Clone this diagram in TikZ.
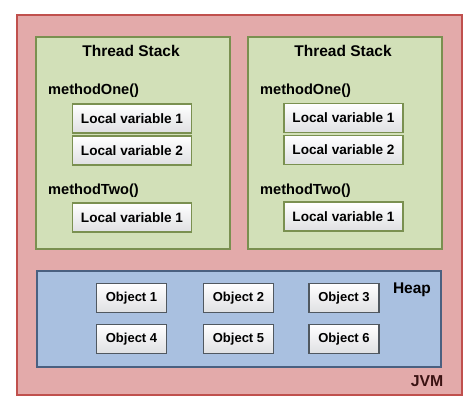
\documentclass[tikz,border=0pt]{standalone}
\usepackage{fontspec}
\setmainfont{Liberation Sans}
\definecolor{jvmfill}{HTML}{E3AAAA}
\definecolor{jvmdraw}{HTML}{C0504D}
\definecolor{jvmtext}{HTML}{3A1212}
\definecolor{stfill}{HTML}{D2E0B8}
\definecolor{stdraw}{HTML}{7A9050}
\definecolor{heapfill}{HTML}{A9C0E0}
\definecolor{heapdraw}{HTML}{4A6080}
\definecolor{boxfill}{HTML}{F0F1F4}
\definecolor{objdraw}{HTML}{505860}
\tikzset{
  area/.style={draw, line width=1.5pt, anchor=north west, inner sep=0pt},
  lvbox/.style={draw=stdraw, line width=1.5pt, top color=white, bottom color=boxfill!85!gray, minimum width=119pt, minimum height=29pt, inner sep=0pt, font=\fontsize{13.6}{15}\selectfont\bfseries},
  objbox/.style={draw=objdraw, line width=1.5pt, top color=white, bottom color=boxfill!85!gray, minimum width=70pt, minimum height=29pt, inner sep=0pt, font=\fontsize{13}{15}\selectfont\bfseries},
  title/.style={font=\fontsize{15.5}{18}\selectfont\bfseries, inner sep=0pt},
  meth/.style={font=\fontsize{14.6}{17}\selectfont\bfseries, inner sep=0pt, anchor=west}
}
\begin{document}
\begin{tikzpicture}[x=1pt,y=-1pt]
\useasboundingbox (0,0) rectangle (474,407);
\node[area, draw=jvmdraw, fill=jvmfill, minimum width=445pt, minimum height=380pt] (jvm) at (16,14) {};
\node[font=\fontsize{15.8}{18}\selectfont\bfseries, text=jvmtext, inner sep=0pt] (jvml) at (427,381) {JVM};
% thread stacks
\node[area, draw=stdraw, fill=stfill, minimum width=194pt, minimum height=212pt] (ts1) at (35,36) {};
\node[area, draw=stdraw, fill=stfill, minimum width=194pt, minimum height=212pt] (ts2) at (247,36) {};
\node[title] (t1) at (131,51) {Thread Stack};
\node[title] (t2) at (343,51) {Thread Stack};
\node[meth] (m11) at (48,91) {methodOne()};
\node[meth] (m12) at (48,191) {methodTwo()};
\node[meth] (m21) at (260,91) {methodOne()};
\node[meth] (m22) at (260,191) {methodTwo()};
\node[lvbox] (l11) at (132,118.5) {Local variable 1};
\node[lvbox] (l12) at (132,150.5) {Local variable 2};
\node[lvbox] (l13) at (132,217.5) {Local variable 1};
\node[lvbox] (l21) at (343.5,118) {Local variable 1};
\node[lvbox] (l22) at (343.5,150) {Local variable 2};
\node[lvbox] (l23) at (343.5,216.5) {Local variable 1};
% heap
\node[area, draw=heapdraw, fill=heapfill, minimum width=404pt, minimum height=96pt] (heap) at (36,270) {};
\node[title] (hl) at (412,290) {Heap};
\node[objbox] (o1) at (131.5,298) {Object 1};
\node[objbox] (o2) at (238.5,298) {Object 2};
\node[objbox] (o3) at (344,298) {Object 3};
\node[objbox] (o4) at (131.5,339) {Object 4};
\node[objbox] (o5) at (238.5,339) {Object 5};
\node[objbox] (o6) at (344,339) {Object 6};
\end{tikzpicture}
\end{document}
